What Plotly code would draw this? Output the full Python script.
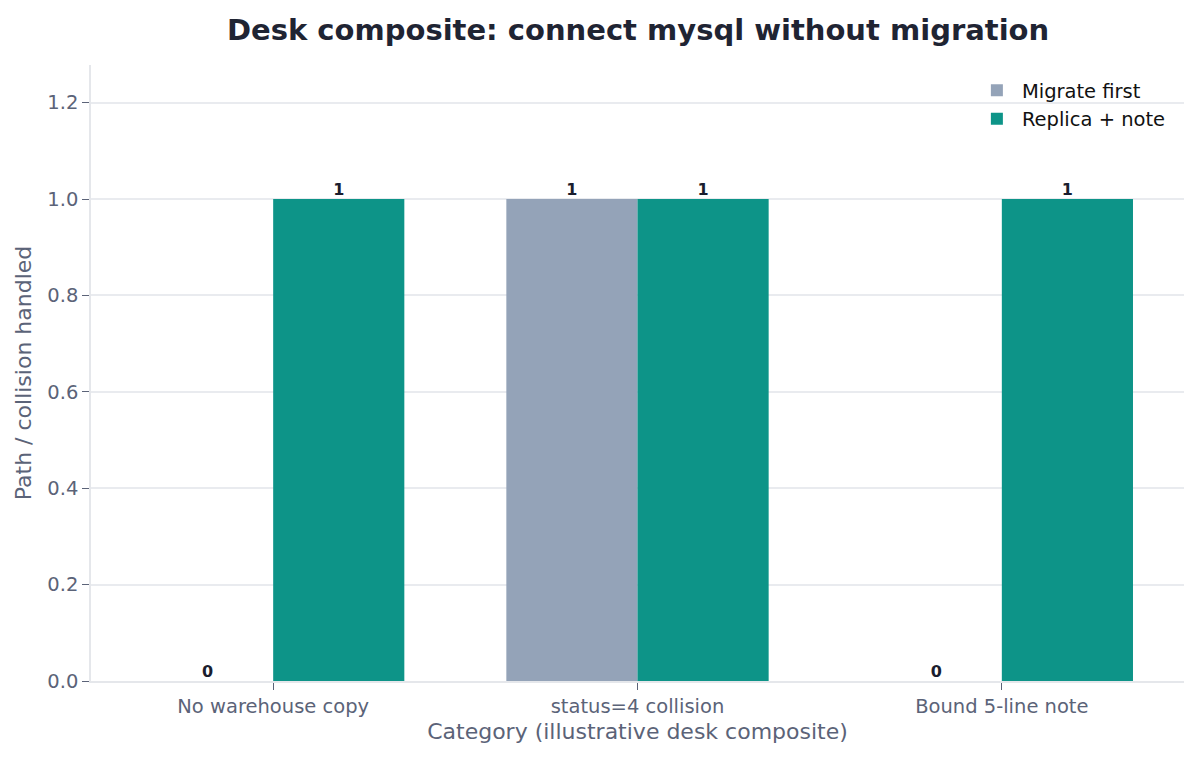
import plotly.graph_objects as go

categories = ["No warehouse copy", "status=4 collision", "Bound 5-line note"]
migrate_first = [0, 1, 0]
replica_note = [1, 1, 1]
series_names = ["Migrate first", "Replica + note"]
y_ticks = [0.0, 0.2, 0.4, 0.6, 0.8, 1.0, 1.2]

FONT = "DejaVu Sans"
TICK_COLOR = "#5b6378"
BAR_W = 0.36
xs = list(range(len(categories)))

fig = go.Figure()
for name, vals, color, off in [
    (series_names[0], migrate_first, "#94a3b8", -BAR_W / 2),
    (series_names[1], replica_note, "#0d9488", BAR_W / 2),
]:
    xp = [x + off for x in xs]
    fig.add_trace(go.Bar(
        x=xp, y=vals, width=BAR_W, name=name, marker=dict(color=color, line=dict(width=0)),
    ))
    fig.add_trace(go.Scatter(
        x=xp, y=vals, mode="text", text=[str(v) for v in vals],
        textposition="top center", showlegend=False, hoverinfo="skip",
        textfont=dict(family=FONT, size=16, color="#1a1d2e", weight="bold"),
    ))

fig.update_layout(
    width=1199, height=760,
    paper_bgcolor="white", plot_bgcolor="white",
    margin=dict(l=83, r=23, t=57, b=87),
    barmode="overlay",
    title=dict(text="<b>Desk composite: connect mysql without migration</b>",
               x=0.5255, xanchor="center", y=0.971, yanchor="middle",
               font=dict(family=FONT, size=29, color="#1f2433")),
    font=dict(family=FONT, color=TICK_COLOR),
    legend=dict(x=0.988, xanchor="right", y=0.99, yanchor="top",
                bgcolor="rgba(0,0,0,0)", font=dict(family=FONT, size=19.5, color="#111111"),
                itemwidth=40),
    showlegend=True,
)
fig.update_xaxes(
    range=[-0.5, 2.5], tickmode="array", tickvals=xs, ticktext=categories,
    showgrid=False, zeroline=False, showline=True, linecolor="#e5e7eb", linewidth=1.5,
    ticks="outside", ticklen=7, tickcolor=TICK_COLOR, tickwidth=1.2,
    tickfont=dict(family=FONT, size=19.5, color=TICK_COLOR),
    title=dict(text="Category (illustrative desk composite)", font=dict(family=FONT, size=22, color=TICK_COLOR), standoff=6),
)
fig.update_yaxes(
    range=[0, 1.278], tickmode="array", tickvals=y_ticks, ticktext=[f"{v:.1f}" for v in y_ticks],
    showgrid=True, gridcolor="#e9ebef", gridwidth=1.5, zeroline=False,
    showline=True, linecolor="#e5e7eb", linewidth=1.5,
    ticks="outside", ticklen=7, tickcolor=TICK_COLOR, tickwidth=1.2,
    tickfont=dict(family=FONT, size=19.5, color=TICK_COLOR),
    title=dict(text="Path / collision handled", font=dict(family=FONT, size=22, color=TICK_COLOR), standoff=10),
)

fig.write_html("out.html")
